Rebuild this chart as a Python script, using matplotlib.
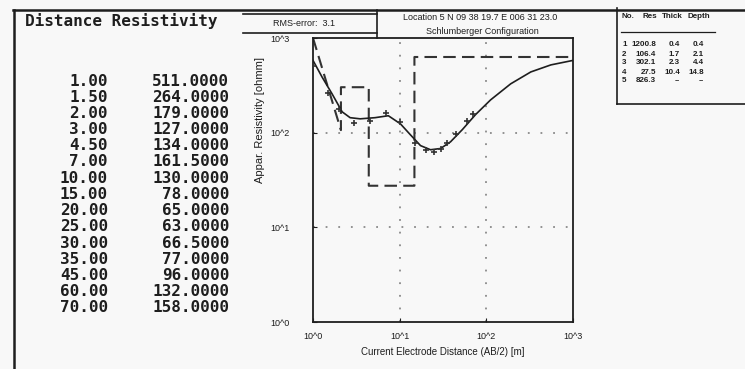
import matplotlib
matplotlib.use("Agg")
import matplotlib.pyplot as plt
from matplotlib.lines import Line2D

W, H = 745, 369

# measured sounding (AB/2 [m], apparent resistivity [ohmm])
AB2 = [1.0, 1.5, 2.0, 3.0, 4.5, 7.0, 10.0, 15.0, 20.0, 25.0, 30.0, 35.0, 45.0, 60.0, 70.0]
RHO_A = [511.0, 264.0, 179.0, 127.0, 134.0, 161.5, 130.0, 78.0, 65.0, 63.0, 66.5, 77.0, 96.0, 132.0, 158.0]

# fitted curve
FIT_X = [1.0, 1.27, 1.66, 2.17, 2.68, 3.5, 5.2, 7.4, 10.2, 13.3, 17.4, 22.7, 29.6, 38.6,
         53.0, 75.0, 112.0, 191.0, 326.0, 556.0, 1000.0]
FIT_Y = [580.0, 388.0, 257.0, 166.0, 144.0, 140.0, 144.0, 151.0, 124.0, 95.0, 73.0, 66.0,
         68.0, 80.0, 108.0, 155.0, 222.0, 328.0, 438.0, 520.0, 580.0]

# layered model as drawn (dashed)
MODEL_X = [1.0, 2.1, 2.1, 4.4, 4.4, 14.8, 14.8, 1000.0]
MODEL_Y = [1000.0, 106.4, 302.1, 302.1, 27.5, 27.5, 630.0, 630.0]

# layer table
LAYER_NO = ["1", "2", "3", "4", "5"]
LAYER_RES = ["1200.8", "106.4", "302.1", "27.5", "826.3"]
LAYER_THICK = ["0.4", "1.7", "2.3", "10.4", "--"]
LAYER_DEPTH = ["0.4", "2.1", "4.4", "14.8", "--"]

TICKS = [1, 10, 100, 1000]
TICK_LABELS = ["10^0", "10^1", "10^2", "10^3"]

BG = "#f8f8f8"
INK = "#1e1e1e"


def fx(x):
    return x / W


def fy(y):
    return 1 - y / H


def hline(fig, x0, x1, y, lw=1.2, color=INK):
    fig.add_artist(Line2D([fx(x0), fx(x1)], [fy(y), fy(y)], lw=lw, color=color))


def vline(fig, x, y0, y1, lw=1.2, color=INK):
    fig.add_artist(Line2D([fx(x), fx(x)], [fy(y0), fy(y1)], lw=lw, color=color))


def main():
    fig = plt.figure(figsize=(W / 100, H / 100), dpi=100, facecolor=BG)

    # ---- left text table ----
    mono = dict(family="DejaVu Sans Mono", weight="bold", color=INK, fontsize=11.5)
    fig.text(fx(25), fy(21), "Distance Resistivity", ha="left", va="center", **mono)
    for i, (d, r) in enumerate(zip(AB2, RHO_A)):
        y = 81 + i * 16.2
        fig.text(fx(108), fy(y), f"{d:.2f}", ha="right", va="center", **mono)
        fig.text(fx(229), fy(y), f"{r:.4f}", ha="right", va="center", **mono)

    # frame lines
    hline(fig, 13, 745, 10, lw=1.8)
    vline(fig, 14, 10, 369, lw=1.8)

    # RMS box
    hline(fig, 243, 377, 14)
    hline(fig, 243, 377, 33)
    vline(fig, 377, 10, 38)
    fig.text(fx(304), fy(24), "RMS-error:  3.1", ha="center", va="center",
             fontsize=6.5, family="Liberation Sans", color=INK)

    # location header
    fig.text(fx(480), fy(18), "Location 5 N 09 38 19.7 E 006 31 23.0", ha="center",
             va="center", fontsize=6.5, family="Liberation Sans", color=INK)
    fig.text(fx(482), fy(32), "Schlumberger Configuration", ha="center",
             va="center", fontsize=6.5, family="Liberation Sans", color=INK)

    # ---- sounding plot ----
    ax = fig.add_axes([fx(313), fy(322), (573 - 313) / W, (322 - 38) / H])
    ax.set_facecolor(BG)
    ax.set_xscale("log")
    ax.set_yscale("log")
    ax.set_xlim(1, 1000)
    ax.set_ylim(1, 1000)

    for v in (10, 100):
        ax.axvline(v, color="#8a8a8a", lw=1.3, linestyle=(0, (1, 6)), zorder=1)
        ax.axhline(v, color="#8a8a8a", lw=1.3, linestyle=(0, (1, 6)), zorder=1)

    ax.plot(MODEL_X, MODEL_Y, color="#333333", lw=1.5, linestyle=(0, (6, 3)), zorder=2)
    ax.plot(FIT_X, FIT_Y, color=INK, lw=1.2, zorder=3)
    ax.plot(AB2, RHO_A, linestyle="none", marker="+", ms=4, mew=1.2, color="#333333", zorder=4)

    ax.set_xticks(TICKS)
    ax.set_xticklabels(TICK_LABELS)
    ax.set_yticks(TICKS)
    ax.set_yticklabels(TICK_LABELS)
    ax.minorticks_off()
    ax.tick_params(axis="x", direction="in", length=3, pad=7, labelsize=6.5, colors=INK)
    ax.tick_params(axis="y", direction="in", length=3, pad=17, labelsize=6.5, colors=INK)
    for lab in ax.get_xticklabels() + ax.get_yticklabels():
        lab.set_family("Liberation Sans")
    for s in ax.spines.values():
        s.set_linewidth(1.3)
        s.set_color(INK)

    fig.text(fx(443), fy(352), "Current Electrode Distance (AB/2) [m]", ha="center",
             va="center", fontsize=7, family="Liberation Sans", color=INK)
    fig.text(fx(260), fy(120), "Appar. Resistivity [ohmm]", ha="center", va="center",
             rotation=90, fontsize=8, family="Liberation Sans", color=INK)

    # ---- layer table (right) ----
    hline(fig, 617, 745, 104)
    vline(fig, 617, 8, 104)
    small = dict(fontsize=5.8, family="Liberation Sans", weight="bold", color=INK, va="center")
    fig.text(fx(621), fy(16), "No.", ha="left", **small)
    fig.text(fx(657), fy(16), "Res", ha="right", **small)
    fig.text(fx(683), fy(16), "Thick", ha="right", **small)
    fig.text(fx(710), fy(16), "Depth", ha="right", **small)
    hline(fig, 621, 715, 32, lw=0.9)
    for i in range(len(LAYER_NO)):
        y = 45 + i * 9
        fig.text(fx(622), fy(y), LAYER_NO[i], ha="left", **small)
        fig.text(fx(656), fy(y), LAYER_RES[i], ha="right", **small)
        fig.text(fx(680), fy(y), LAYER_THICK[i], ha="right", **small)
        fig.text(fx(704), fy(y), LAYER_DEPTH[i], ha="right", **small)

    fig.savefig("out.png", dpi=100, facecolor=BG)


if __name__ == "__main__":
    main()
